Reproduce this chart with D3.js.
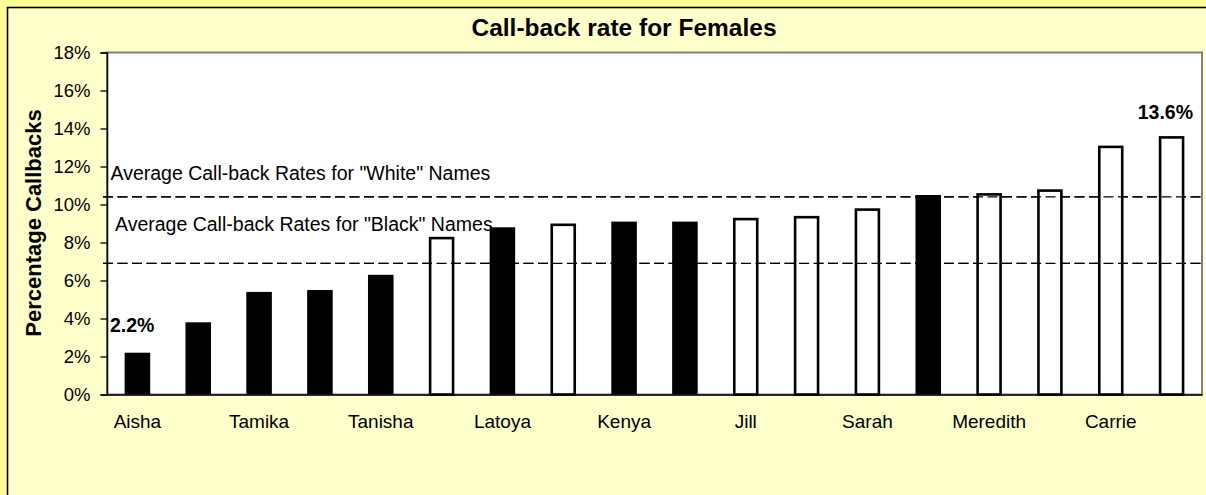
<!DOCTYPE html>
<html>
<head>
<meta charset="utf-8">
<script src="https://cdn.jsdelivr.net/npm/d3@7"></script>
<style>
  html, body { margin: 0; padding: 0; background: #FFFF99; }
  svg { display: block; font-family: Arial, "Liberation Sans", sans-serif; }
</style>
</head>
<body>
<svg id="chart" width="1206" height="495"></svg>
<script>
// ---- data ----
const names = ["Aisha","Keisha","Tamika","Lakisha","Tanisha","Emily","Latoya","Anne","Kenya",
               "Latonya","Jill","Allison","Sarah","Ebony","Meredith","Laurie","Carrie","Kristen"];
const rates = [2.2, 3.8, 5.4, 5.5, 6.3, 8.3, 8.8, 9.0, 9.1, 9.1, 9.3, 9.4, 9.8, 10.5, 10.6, 10.8, 13.1, 13.6];
const groups = ["Black","Black","Black","Black","Black","White","Black","White","Black",
                "Black","White","White","White","Black","White","White","White","White"];
const averages = [10.4, 6.9];
const averageLabels = ['Average Call-back Rates for "White" Names', 'Average Call-back Rates for "Black" Names'];
const yTicks = [0, 2, 4, 6, 8, 10, 12, 14, 16, 18];
const shownNames = ["Aisha","Tamika","Tanisha","Latoya","Kenya","Jill","Sarah","Meredith","Carrie"];
const labelledBars = ["Aisha", "Kristen"];

// ---- layout ----
const svg = d3.select("#chart");
const W = 1206, H = 495;
const plot = { left: 107, right: 1202, top: 52.5, bottom: 394.5 };

// chart area
svg.append("rect").attr("x", 7.5).attr("y", 7.5).attr("width", W + 10).attr("height", H + 10)
  .attr("fill", "#FFFFCC").attr("stroke", "#000").attr("stroke-width", 1.6);

const x = d3.scaleBand().domain(names).range([plot.left, plot.right]).paddingInner(0.58).paddingOuter(0.29);
const y = d3.scaleLinear().domain([0, 18]).range([plot.bottom, plot.top]);

// plot area
svg.append("rect").attr("x", plot.left).attr("y", plot.top)
  .attr("width", plot.right - plot.left).attr("height", plot.bottom - plot.top)
  .attr("fill", "#FFFFFF").attr("stroke", "#808080").attr("stroke-width", 2);

// title
svg.append("text").attr("x", 624).attr("y", 36).attr("text-anchor", "middle")
  .attr("font-weight", "bold").attr("font-size", "24.5px").text("Call-back rate for Females");

// y axis title
svg.append("text").attr("transform", "translate(41,223) rotate(-90)").attr("text-anchor", "middle")
  .attr("font-weight", "bold").attr("font-size", "22px").text("Percentage Callbacks");

// average lines (behind bars)
const avgG = svg.append("g");
avgG.selectAll("line").data(averages).join("line")
  .attr("x1", 103).attr("x2", plot.right - 1)
  .attr("y1", d => y(d)).attr("y2", d => y(d))
  .attr("stroke", "#000").attr("stroke-width", 1.2).attr("stroke-dasharray", "10,4.5");

// bars
const sw = 2.6;
const data = names.map((n, i) => ({ name: n, rate: rates[i], group: groups[i] }));
svg.append("g").selectAll("rect").data(data).join("rect")
  .attr("x", d => d.group === "White" ? x(d.name) + sw / 2 : x(d.name))
  .attr("width", d => d.group === "White" ? x.bandwidth() - sw : x.bandwidth())
  .attr("y", d => d.group === "White" ? y(d.rate) + sw / 2 : y(d.rate))
  .attr("height", d => d.group === "White" ? y(0) - y(d.rate) - sw / 2 : y(0) - y(d.rate))
  .attr("fill", d => d.group === "White" ? "#FFFFFF" : "#000000")
  .attr("stroke", d => d.group === "White" ? "#000" : "none")
  .attr("stroke-width", sw);

// re-draw dashed lines across white bar interiors (the lines run in front of bars)
svg.append("g").selectAll("line").data(averages).join("line")
  .attr("x1", 103).attr("x2", plot.right - 1)
  .attr("y1", d => y(d)).attr("y2", d => y(d))
  .attr("stroke", "#000").attr("stroke-width", 1.2).attr("stroke-dasharray", "10,4.5");

// average labels
svg.append("g").selectAll("text").data(averages).join("text")
  .attr("x", (d, i) => i === 0 ? 110.5 : 115)
  .attr("y", (d, i) => i === 0 ? y(d) - 16.5 : y(d) - 32)
  .attr("font-size", "19.5px")
  .text((d, i) => averageLabels[i]);

// y axis
const yAxis = svg.append("g").attr("transform", `translate(${plot.left},0)`)
  .call(d3.axisLeft(y).tickValues(yTicks).tickFormat(d => d + "%").tickSize(6.5).tickPadding(10));
yAxis.select(".domain").attr("stroke", "#000").attr("stroke-width", 1.5);
yAxis.selectAll(".tick line").attr("stroke", "#000").attr("stroke-width", 1.3);
yAxis.selectAll("text").attr("font-size", "18.5px").attr("font-family", "Arial, 'Liberation Sans', sans-serif").attr("fill", "#000");

// x axis
const xAxis = svg.append("g").attr("transform", `translate(0,${plot.bottom})`)
  .call(d3.axisBottom(x).tickValues(shownNames).tickSize(0).tickPadding(20));
xAxis.select(".domain").attr("stroke", "#000").attr("stroke-width", 1.3);
xAxis.selectAll("text").attr("font-size", "19px").attr("font-family", "Arial, 'Liberation Sans', sans-serif").attr("fill", "#000");

// data labels
svg.append("g").selectAll("text").data(data.filter(d => labelledBars.includes(d.name))).join("text")
  .attr("x", (d, i) => i === 0 ? 110 : 1193)
  .attr("text-anchor", (d, i) => i === 0 ? "start" : "end")
  .attr("y", d => y(d.rate) - (d.name === "Aisha" ? 20.5 : 17.5))
  .attr("font-weight", "bold").attr("font-size", "19.5px")
  .text(d => d.rate.toFixed(1) + "%");
</script>
</body>
</html>
